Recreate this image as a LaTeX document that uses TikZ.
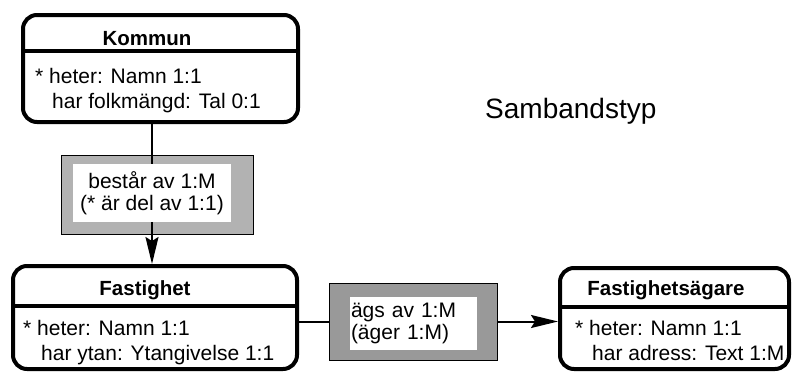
\documentclass[tikz,border=0pt]{standalone}
\usepackage{fontspec}
\setmainfont{Liberation Sans}
\usetikzlibrary{arrows.meta}

\definecolor{relgray}{gray}{0.70}
\definecolor{reldark}{gray}{0.60}

\begin{document}
\begin{tikzpicture}[x=1pt, y=-1pt, >={Stealth[length=27pt, width=13pt, inset=4pt]},
  entity/.style={draw, line width=4pt, rounded corners=14pt, inner sep=0pt},
  head/.style={font=\fontsize{20.5}{24}\selectfont\bfseries, anchor=base, inner sep=0pt},
  attr/.style={font=\fontsize{21}{25}\selectfont, align=left, anchor=base west,
    inner sep=0pt},
  relbox/.style={draw, line width=1pt, inner sep=0pt},
  reltext/.style={fill=white, inner sep=0pt, font=\fontsize{21}{22.5}\selectfont},
  link/.style={line width=2pt}]
  \useasboundingbox (0,0) rectangle (792,372);

  % entities
  \node[entity, minimum width=275pt, minimum height=107pt] (kommun) at (160.5,68.5) {};
  \node[entity, minimum width=284pt, minimum height=103pt] (fastighet) at (155,317.5) {};
  \node[entity, minimum width=229pt, minimum height=101pt] (agare) at (674.5,318.5) {};
  \draw[line width=3.5pt] ([yshift=-38pt]kommun.north west) -- ([yshift=-38pt]kommun.north east);
  \draw[line width=3.5pt] ([yshift=-42pt]fastighet.north west) -- ([yshift=-42pt]fastighet.north east);
  \draw[line width=3.5pt] ([yshift=-41pt]agare.north west) -- ([yshift=-41pt]agare.north east);

  % headers and attributes (base = last line)
  \node[head] (kommunhead) at (147,45) {Kommun};
  \node[attr] (kommunattr) at (35,108)
    {* heter: Namn 1:1\\\hspace{17pt}har folkmängd: Tal 0:1};
  \node[head] (fastighethead) at (145,295) {Fastighet};
  \node[attr] (fastighetattr) at (23,360)
    {* heter: Namn 1:1\\\hspace{18pt}har ytan: Ytangivelse 1:1};
  \node[head] (agarehead) at (666,295) {Fastighetsägare};
  \node[attr] (agareattr) at (575,360)
    {* heter: Namn 1:1\\\hspace{17pt}har adress: Text 1:M};

  % Kommun -> Fastighet
  \node[relbox, fill=relgray, minimum width=192pt, minimum height=79pt] (rel1) at (157,194.5) {};
  \node[reltext, align=center, minimum width=158pt, minimum height=58pt] (rel1txt) at (152,193)
    {består av 1:M\\(* är del av 1:1)};
  \draw[link] (kommun.south -| rel1txt) -- (rel1txt.north);
  \draw[link, ->] (rel1txt.south) -- (fastighet.north -| rel1txt);

  % Fastighet -> Fastighetsägare
  \node[relbox, fill=reldark, minimum width=168pt, minimum height=77pt] (rel2) at (413,321.5) {};
  \node[reltext, align=left, text width=125pt, inner xsep=1pt, minimum height=53pt] (rel2txt)
    at (413.5,323.5) {ägs av 1:M\\(äger 1:M)};
  \draw[link] (fastighet.east |- rel2) -- (rel2);
  \draw[link, ->] (rel2) -- (agare.west |- rel2);

  \node[font=\fontsize{28}{32}\selectfont, anchor=base west, inner sep=0pt] (typ) at (485,118)
    {Sambandstyp};
\end{tikzpicture}
\end{document}
